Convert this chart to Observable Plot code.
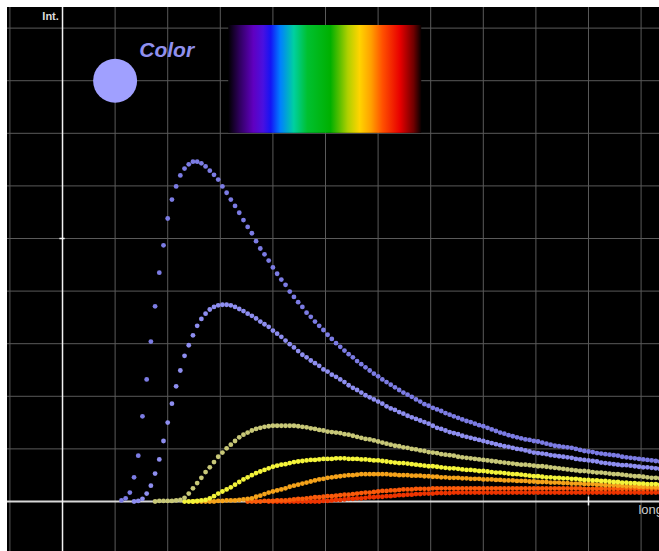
<!DOCTYPE html>
<html><head><meta charset="utf-8">
<script src="https://cdn.jsdelivr.net/npm/d3@7"></script>
<script src="https://cdn.jsdelivr.net/npm/@observablehq/plot@0.6"></script>
<style>
html,body{margin:0;padding:0;background:#fff;overflow:hidden;}
#chart{position:absolute;left:7px;top:7px;}
</style></head><body><div id="chart"></div>
<script>
// sampling grid of the wavelength axis (grid units)
const xStart = 1.12, xStep = 0.08;

// intensity values (grid units), one array per temperature
const curve1Start = 0;
const curve1 = [0.02,0.06,0.17,0.46,0.87,1.62,2.32,3.04,3.71,4.35,
4.87,5.38,5.74,5.99,6.20,6.33,6.41,6.46,6.46,6.43,
6.37,6.29,6.21,6.12,5.99,5.87,5.74,5.62,5.49,5.35,
5.22,5.10,4.95,4.81,4.70,4.58,4.45,4.33,4.22,4.12,
3.99,3.89,3.79,3.70,3.59,3.51,3.42,3.34,3.26,3.17,
3.09,3.01,2.94,2.87,2.80,2.74,2.67,2.61,2.55,2.49,
2.43,2.38,2.32,2.27,2.22,2.17,2.12,2.07,2.03,1.99,
1.94,1.90,1.85,1.82,1.78,1.75,1.72,1.68,1.65,1.62,
1.59,1.56,1.53,1.51,1.48,1.45,1.43,1.40,1.37,1.34,
1.31,1.29,1.26,1.24,1.22,1.20,1.18,1.17,1.15,1.14,
1.12,1.10,1.08,1.06,1.05,1.04,1.03,1.02,1.00,0.98,
0.96,0.95,0.94,0.92,0.91,0.90,0.89,0.88,0.87,0.85,
0.84,0.83,0.82,0.81,0.80,0.79,0.78,0.77,0.76];

const curve2Start = 3;
const curve2 = [0.00,0.01,0.05,0.15,0.30,0.53,0.80,
1.15,1.50,1.86,2.19,2.49,2.77,2.97,3.16,3.34,3.47,
3.57,3.65,3.70,3.73,3.74,3.74,3.73,3.70,3.66,3.62,
3.57,3.53,3.48,3.42,3.37,3.32,3.25,3.19,3.13,3.06,
2.99,2.93,2.86,2.79,2.74,2.68,2.63,2.58,2.51,2.47,
2.41,2.37,2.32,2.27,2.21,2.16,2.12,2.07,2.02,1.98,
1.94,1.90,1.86,1.81,1.77,1.74,1.70,1.67,1.63,1.60,
1.57,1.54,1.51,1.48,1.44,1.40,1.38,1.35,1.32,1.30,
1.28,1.25,1.23,1.21,1.19,1.17,1.15,1.13,1.11,1.09,
1.07,1.05,1.04,1.02,1.00,0.99,0.97,0.95,0.93,0.92,
0.91,0.90,0.88,0.87,0.86,0.85,0.84,0.83,0.81,0.80,
0.79,0.78,0.77,0.76,0.74,0.73,0.72,0.71,0.70,0.69,
0.69,0.68,0.67,0.66,0.65,0.65,0.64,0.63,0.62];

const curve3Start = 8;
const curve3 = [0.00,0.01,
0.01,0.01,0.01,0.02,0.03,0.07,0.15,0.25,0.35,0.45,
0.56,0.65,0.75,0.85,0.93,1.01,1.08,1.15,1.22,1.27,
1.31,1.35,1.38,1.40,1.42,1.43,1.44,1.44,1.44,1.44,
1.44,1.44,1.43,1.42,1.41,1.39,1.38,1.36,1.35,1.33,
1.32,1.31,1.30,1.28,1.27,1.25,1.23,1.21,1.19,1.18,
1.16,1.14,1.12,1.10,1.08,1.06,1.05,1.03,1.02,1.00,
0.99,0.97,0.96,0.94,0.93,0.92,0.90,0.89,0.88,0.87,
0.85,0.84,0.83,0.82,0.81,0.80,0.79,0.78,0.77,0.76,
0.75,0.74,0.73,0.72,0.71,0.70,0.70,0.69,0.68,0.67,
0.67,0.66,0.65,0.64,0.63,0.62,0.61,0.60,0.59,0.58,
0.58,0.57,0.56,0.55,0.55,0.54,0.53,0.52,0.52,0.51,
0.50,0.49,0.48,0.48,0.47,0.46,0.45,0.45,0.44];

const curve4Start = 15;
const curve4 = [0.00,0.00,0.00,0.01,0.02,
0.03,0.06,0.10,0.15,0.19,0.23,0.27,0.32,0.37,0.42,
0.46,0.50,0.54,0.57,0.60,0.63,0.66,0.68,0.70,0.71,
0.73,0.75,0.76,0.77,0.78,0.79,0.79,0.80,0.81,0.81,
0.81,0.82,0.82,0.82,0.81,0.81,0.81,0.80,0.80,0.79,
0.78,0.78,0.77,0.76,0.75,0.74,0.73,0.73,0.72,0.71,
0.70,0.69,0.68,0.67,0.67,0.66,0.65,0.64,0.63,0.63,
0.62,0.61,0.60,0.60,0.59,0.58,0.58,0.57,0.56,0.55,
0.55,0.54,0.53,0.52,0.52,0.51,0.50,0.49,0.48,0.48,
0.47,0.46,0.46,0.45,0.45,0.44,0.44,0.43,0.43,0.42,
0.41,0.41,0.40,0.40,0.39,0.39,0.38,0.37,0.37,0.36,
0.36,0.35,0.35,0.34,0.34,0.33,0.33,0.33,0.32];

const curve5Start = 17;
const curve5 = [0.00,0.00,0.00,
0.00,0.00,0.00,0.01,0.01,0.02,0.02,0.02,0.03,0.04,
0.05,0.06,0.09,0.11,0.14,0.17,0.19,0.21,0.23,0.25,
0.28,0.30,0.32,0.34,0.36,0.38,0.40,0.42,0.43,0.45,
0.46,0.47,0.48,0.49,0.50,0.50,0.51,0.52,0.52,0.52,
0.52,0.52,0.52,0.52,0.51,0.51,0.50,0.50,0.50,0.49,
0.49,0.49,0.48,0.48,0.47,0.47,0.46,0.46,0.45,0.45,
0.45,0.44,0.44,0.43,0.43,0.43,0.42,0.42,0.42,0.41,
0.41,0.40,0.40,0.40,0.39,0.39,0.39,0.38,0.38,0.37,
0.37,0.37,0.36,0.36,0.36,0.35,0.35,0.34,0.34,0.34,
0.33,0.33,0.33,0.32,0.32,0.31,0.31,0.31,0.30,0.30,
0.29,0.29,0.29,0.28,0.28,0.28,0.27,0.27,0.26];

const curve6Start = 30;
const curve6 = [0.00,0.00,0.00,0.00,0.01,0.01,0.01,0.02,0.02,0.02,
0.03,0.04,0.05,0.05,0.06,0.07,0.08,0.08,0.09,0.10,
0.10,0.11,0.12,0.13,0.13,0.14,0.15,0.16,0.17,0.17,
0.18,0.19,0.20,0.20,0.21,0.21,0.22,0.23,0.23,0.23,
0.24,0.24,0.24,0.24,0.25,0.25,0.25,0.25,0.25,0.25,
0.25,0.25,0.25,0.25,0.25,0.25,0.25,0.25,0.25,0.25,
0.25,0.25,0.25,0.25,0.25,0.25,0.25,0.25,0.25,0.25,
0.25,0.25,0.25,0.25,0.25,0.25,0.25,0.25,0.25,0.25,
0.24,0.24,0.24,0.24,0.24,0.24,0.24,0.24,0.24,0.24,
0.24,0.24,0.24,0.24,0.24,0.24,0.24,0.24,0.24];

const curve7Start = 35;
const curve7 = [0.00,0.00,0.00,0.00,0.00,
0.00,0.00,0.00,0.00,0.00,0.00,0.00,0.00,0.01,0.01,
0.02,0.03,0.03,0.04,0.05,0.05,0.06,0.06,0.07,0.08,
0.08,0.09,0.09,0.10,0.10,0.11,0.12,0.12,0.13,0.13,
0.14,0.14,0.15,0.15,0.15,0.16,0.16,0.16,0.16,0.17,
0.17,0.17,0.17,0.17,0.17,0.17,0.17,0.17,0.17,0.17,
0.17,0.17,0.17,0.17,0.17,0.17,0.17,0.17,0.17,0.17,
0.17,0.17,0.17,0.17,0.17,0.17,0.17,0.17,0.17,0.17,
0.17,0.17,0.17,0.17,0.17,0.17,0.17,0.17,0.17,0.17,
0.17,0.17,0.17,0.17,0.17,0.17,0.17,0.17,0.17];

const curveColors = ["#7c7ce4","#8e8ef0","#c8c878","#f4f43a","#f5a21a","#fa5a0a","#ee3400"];

const gridX = [-1,0,1,2,3,4,5,6,7,8,9,10,11];
const gridY = [0,1,2,3,4,5,6,7,8,9];
const xTicks = [10];
const yTicks = [5];
const yLabel = ["Int."];
const xLabel = ["long"];
const colorLabel = ["Color"];
const colorSwatch = ["#a0a0ff"];
const spectrumStops = [
  [0.00,"#000000"],[0.06,"#300060"],[0.13,"#6000c0"],[0.18,"#4a10e0"],
  [0.22,"#1414f4"],[0.27,"#0080ff"],[0.34,"#00d0a0"],[0.41,"#00c030"],
  [0.53,"#00b000"],[0.58,"#60c000"],[0.62,"#b0d000"],[0.68,"#ffd400"],
  [0.74,"#ffa000"],[0.80,"#ff5000"],[0.89,"#e80000"],[0.96,"#700000"],
  [1.00,"#080000"]];

function series(values, start) {
  return values.map((v, k) => ({x: xStart + (start + k) * xStep, y: v}));
}
const allCurves = [
  series(curve7, curve7Start), series(curve6, curve6Start),
  series(curve5, curve5Start), series(curve4, curve4Start),
  series(curve3, curve3Start), series(curve2, curve2Start),
  series(curve1, curve1Start)
];
const allColors = [curveColors[6],curveColors[5],curveColors[4],curveColors[3],curveColors[2],curveColors[1],curveColors[0]];

const font = "Liberation Sans, Arial, sans-serif";
const chart = Plot.plot({
  width: 652, height: 544, margin: 0,
  x: {domain: [-1.046, 11.35], axis: null},
  y: {domain: [-0.951, 9.392], axis: null},
  style: {background: "black", fontFamily: font},
  marks: [
    Plot.ruleX(gridX, {stroke: "#5a5a5a", strokeWidth: 1}),
    Plot.ruleY(gridY, {stroke: "#5a5a5a", strokeWidth: 1}),
    Plot.ruleY([0], {stroke: "#d8d8d8", strokeWidth: 2}),
    Plot.ruleX([0], {stroke: "#f2f2f2", strokeWidth: 1.5}),
    Plot.ruleX(xTicks, {y1: () => -0.085, y2: () => 0.085, stroke: "#f2f2f2", strokeWidth: 1.5}),
    Plot.ruleY(yTicks, {x1: () => -0.05, x2: () => 0.05, stroke: "#f2f2f2", strokeWidth: 1.5}),
    Plot.rect(colorLabel, {x1: () => 3.16, x2: () => 6.83, y1: () => 7.0, y2: () => 9.05, fill: "url(#spectrum)"}),
    Plot.dot(colorSwatch, {x: () => 1.0, y: () => 8.0, r: 22, fill: d => d}),
    Plot.text(colorLabel, {x: () => 1.98, y: () => 8.57, text: d => d, fill: "#9090ee", fontSize: 21, fontWeight: "bold", fontStyle: "italic"}),
    Plot.text(yLabel, {x: () => -0.07, y: () => 9.22, text: d => d, textAnchor: "end", fill: "#dddddd", fontSize: 11, fontWeight: "bold"}),
    Plot.text(xLabel, {x: () => 10.95, y: () => -0.16, text: d => d, textAnchor: "start", fill: "#cccccc", fontSize: 13}),
    ...allCurves.map((data, k) => Plot.dot(data, {x: "x", y: "y", r: 2.4, fill: allColors[k], stroke: "none"}))
  ]
});

// gradient definition for the spectrum strip
const svg = d3.select(chart);
const defs = svg.insert("defs", ":first-child");
const grad = defs.append("linearGradient").attr("id", "spectrum").attr("x1", 0).attr("x2", 1).attr("y1", 0).attr("y2", 0);
spectrumStops.forEach(([o, c]) => grad.append("stop").attr("offset", o).attr("stop-color", c));
svg.selectAll("g[aria-label='rect'] rect").attr("fill", "url(#spectrum)");
svg.selectAll("g[aria-label='rect']").attr("fill", "url(#spectrum)");
document.getElementById("chart").appendChild(chart);
</script></body></html>
